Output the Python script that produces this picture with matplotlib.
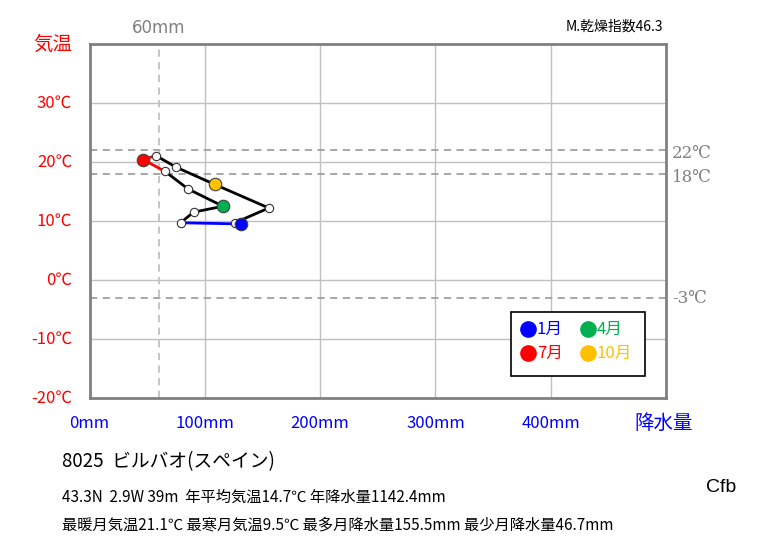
import matplotlib
matplotlib.use("Agg")
import matplotlib.pyplot as plt
from matplotlib.patches import Rectangle

plt.rcParams['font.family'] = ['Noto Sans CJK JP', 'DejaVu Sans']

months = [1, 2, 3, 4, 5, 6, 7, 8, 9, 10, 11, 12]
precip = [131.5, 79.0, 90.3, 115.8, 85.7, 65.5, 46.7, 57.4, 75.3, 108.6, 155.5, 126.0]
temp = [9.5, 9.7, 11.5, 12.5, 15.4, 18.4, 20.4, 21.1, 19.1, 16.2, 12.2, 9.7]

x_ticks = [0, 100, 200, 300, 400]
x_labels = ['0mm', '100mm', '200mm', '300mm', '400mm']
y_ticks = [-20, -10, 0, 10, 20, 30]
y_labels = ['-20℃', '-10℃', '0℃', '10℃', '20℃', '30℃']
ref_temps = [22, 18, -3]
ref_labels = ['22℃', '18℃', '-3℃']
ref_precip = 60

highlight = {1: '#0000FF', 4: '#00B050', 7: '#FF0000', 10: '#FFC000'}
legend_months = [1, 4, 7, 10]
legend_labels = ['1月', '4月', '7月', '10月']

fig = plt.figure(figsize=(7.63, 5.45), dpi=100)
ax = fig.add_axes([89.5/763, 1-398/545, (666-89.5)/763, (398-44)/545])
ax.set_xlim(0, 500)
ax.set_ylim(-20, 40)

for xv in x_ticks[1:]:
    ax.axvline(xv, color='#c0c0c0', lw=1, zorder=1)
for yv in [-10, 0, 10, 20, 30]:
    ax.axhline(yv, color='#c0c0c0', lw=1, zorder=1)
for t in ref_temps:
    ax.axhline(t, color='#a0a0a0', lw=1.3, ls=(0, (4, 3)), zorder=1.5)
ax.axvline(ref_precip, color='#c0c0c0', lw=1.3, ls=(0, (4, 3)), zorder=1.5)

for s in ax.spines.values():
    s.set_color('#808080')
    s.set_linewidth(2)
ax.set_xticks([])
ax.set_yticks([])

# line segments
n = len(months)
for i in range(n):
    j = (i + 1) % n
    m1, m2 = months[i], months[j]
    c = 'black'
    if m1 in (12, 1) and m2 in (1, 2):
        c = '#0000FF'
    if m1 in (6, 7) and m2 in (7, 8):
        c = '#FF0000'
    ax.plot([precip[i], precip[j]], [temp[i], temp[j]], color=c, lw=2, zorder=3,
            solid_capstyle='round')

for m, p, t in zip(months, precip, temp):
    if m in highlight:
        ax.plot(p, t, 'o', ms=9, mfc=highlight[m], mec='#404040', mew=0.8, zorder=5)
    else:
        ax.plot(p, t, 'o', ms=6, mfc='white', mec='#333333', mew=0.8, zorder=4)

# tick labels
for yv, lab in zip(y_ticks, y_labels):
    ax.text(-0.03, (yv + 20) / 60, lab, transform=ax.transAxes,
            ha='right', va='center', color='red', fontsize=12)
ax.text(-0.03, 1.0, '気温', transform=ax.transAxes, ha='right', va='center',
        color='red', fontsize=14)
for xv, lab in zip(x_ticks, x_labels):
    ax.text(xv, -24.4, lab, ha='center', va='center', color='blue', fontsize=12)
ax.text(498, -24.4, '降水量', ha='center', va='center', color='blue', fontsize=14)

for t, lab in zip(ref_temps, ref_labels):
    off = {22: -0.5, 18: -0.7, -3: -0.1}[t]
    ax.text(505, t + off, lab, ha='left', va='center', color='#808080', fontsize=12,
            family=['DejaVu Serif', 'Noto Sans CJK JP'])
ax.text(ref_precip, 42.7, '60mm', ha='center', va='center', color='#808080', fontsize=12,
        family=['DejaVu Sans', 'Noto Sans CJK JP'])
fig.text(663/763, 1-27/545, 'M.乾燥指数46.3', ha='right', va='center', fontsize=10)

# legend box
lx0, lx1 = (511-89.5)/576.5, (645-89.5)/576.5
ly0, ly1 = 1-(376-44)/354, 1-(312-44)/354
ax.add_patch(Rectangle((lx0, ly0), lx1-lx0, ly1-ly0, transform=ax.transAxes,
                       fill=True, fc='white', ec='black', lw=1.2, zorder=6))
pos = [(520, 329), (580, 329), (520, 353), (580, 353)]
for m, lab, (px, py) in zip(legend_months, legend_labels, pos):
    fx = (px + 8 - 89.5) / 576.5
    fy = 1 - (py - 44) / 354
    ax.plot(fx, fy, 'o', ms=11, color=highlight[m], transform=ax.transAxes, zorder=7,
            clip_on=False)
    ax.text(fx + 0.015, fy, lab, transform=ax.transAxes, ha='left', va='center',
            color=highlight[m], fontsize=12, zorder=7)

fig.text(62/763, 1-462/545, '8025  ビルバオ(スペイン)', ha='left', va='center', fontsize=13.5)
fig.text(62/763, 1-497/545, '43.3N  2.9W 39m  年平均気温14.7℃ 年降水量1142.4mm',
         ha='left', va='center', fontsize=11)
fig.text(62/763, 1-525/545, '最暖月気温21.1℃ 最寒月気温9.5℃ 最多月降水量155.5mm 最少月降水量46.7mm',
         ha='left', va='center', fontsize=11)
fig.text(721/763, 1-488/545, 'Cfb', ha='center', va='center', fontsize=14,
         family=['Liberation Sans', 'DejaVu Sans'])

fig.savefig('out.png', dpi=100)
